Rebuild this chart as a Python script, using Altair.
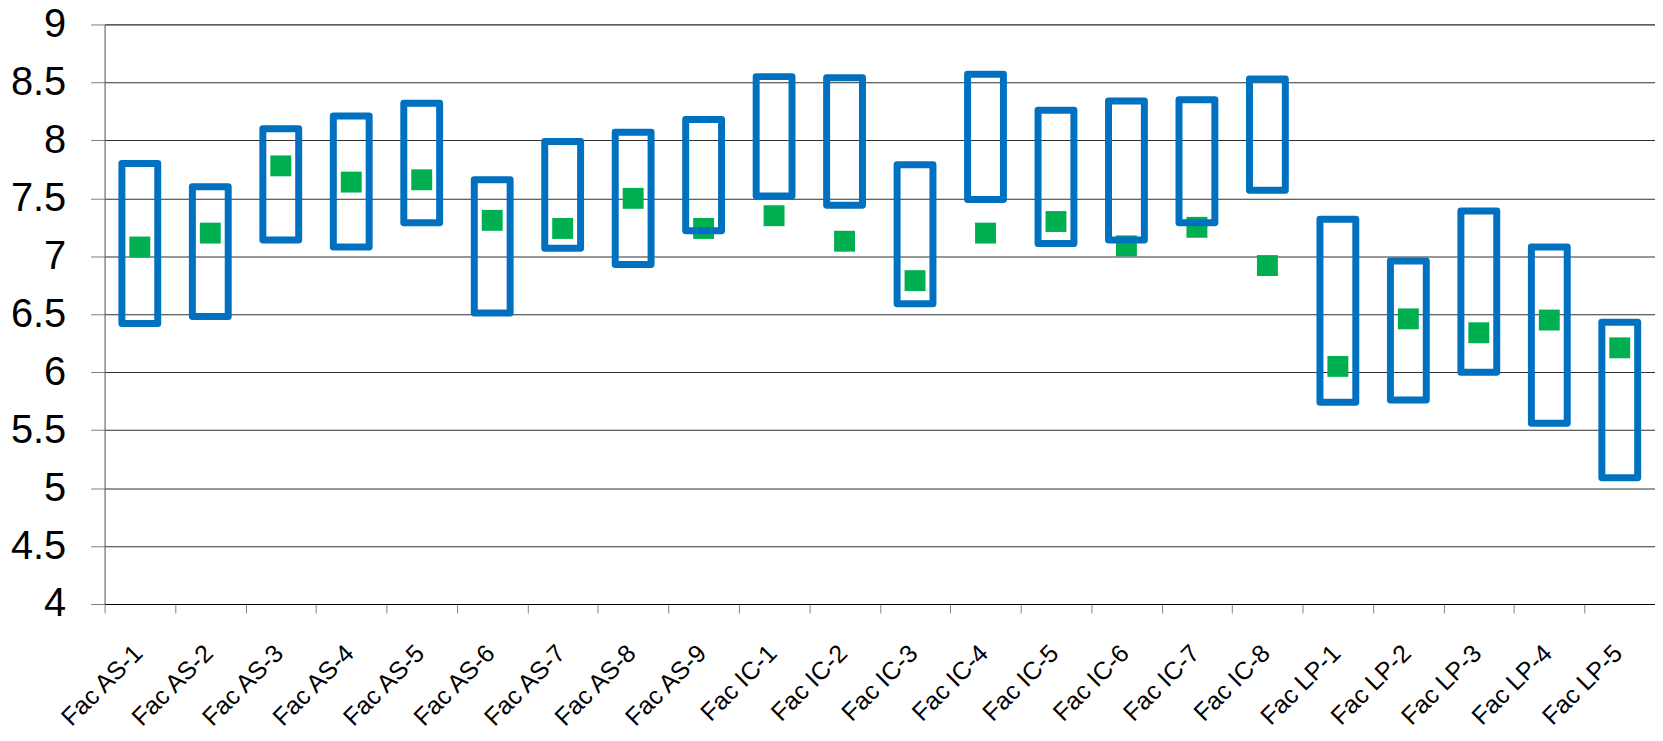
import altair as alt
import pandas as pd

categories = ["Fac AS-1", "Fac AS-2", "Fac AS-3", "Fac AS-4", "Fac AS-5", "Fac AS-6",
              "Fac AS-7", "Fac AS-8", "Fac AS-9", "Fac IC-1", "Fac IC-2", "Fac IC-3",
              "Fac IC-4", "Fac IC-5", "Fac IC-6", "Fac IC-7", "Fac IC-8", "Fac LP-1",
              "Fac LP-2", "Fac LP-3", "Fac LP-4", "Fac LP-5"]
upper = [7.80, 7.60, 8.10, 8.21, 8.32, 7.66, 7.99, 8.07, 8.18, 8.55, 8.54, 7.79,
         8.57, 8.26, 8.34, 8.35, 8.53, 7.32, 6.96, 7.39, 7.08, 6.43]
lower = [6.42, 6.48, 7.14, 7.08, 7.29, 6.51, 7.07, 6.93, 7.22, 7.52, 7.44, 6.59,
         7.49, 7.11, 7.14, 7.29, 7.57, 5.74, 5.76, 6.00, 5.56, 5.09]
mid = [7.08, 7.20, 7.78, 7.64, 7.66, 7.31, 7.24, 7.50, 7.24, 7.35, 7.13, 6.79,
       7.20, 7.30, 7.09, 7.25, 6.92, 6.05, 6.46, 6.34, 6.45, 6.21]
y_ticks = [4, 4.5, 5, 5.5, 6, 6.5, 7, 7.5, 8, 8.5, 9]

df = pd.DataFrame({"cat": categories, "upper": upper, "lower": lower, "mid": mid})

FONT = "Liberation Sans, Arial, sans-serif"

x_enc = alt.X(
    "cat:N", sort=categories,
    scale=alt.Scale(paddingInner=0, paddingOuter=0),
    axis=alt.Axis(title=None, labelAngle=-45, labelAlign="right", labelBaseline="middle",
                  tickBand="extent", tickSize=9, tickColor="#808080", domainColor="#000000",
                  labelPadding=36, labelOffset=-2, labelFont=FONT, labelFontSize=25,
                  labelColor="#000000", grid=False, labelOverlap=False),
)
y_scale = alt.Scale(domain=[4, 9], nice=False, zero=False)
y_axis = alt.Axis(title=None, values=y_ticks, format="~g", grid=True, gridColor="#303030",
                  gridWidth=1.2, tickSize=14, tickColor="#808080", domainColor="#606060",
                  labelFont=FONT, labelFontSize=40, labelColor="#000000", labelPadding=25)

squares = alt.Chart(df).mark_square(size=441, color="#00B050", opacity=1, filled=True).encode(
    x=x_enc,
    y=alt.Y("mid:Q", scale=y_scale, axis=y_axis),
)
boxes = alt.Chart(df).mark_bar(fillOpacity=0, fill="white", stroke="#0070C0", strokeWidth=7,
                               strokeJoin="round", width=36).encode(
    x=x_enc,
    y=alt.Y("upper:Q", scale=y_scale, axis=y_axis),
    y2="lower:Q",
)

chart = alt.layer(squares, boxes).properties(
    width=1557, height=582,
    autosize=alt.AutoSizeParams(type="none"),
    padding={"left": 97, "top": 15, "right": 0, "bottom": 128},
).configure_view(stroke=None).configure(background="white")

chart.save("out.html", embed_options={"renderer": "svg", "actions": False})
